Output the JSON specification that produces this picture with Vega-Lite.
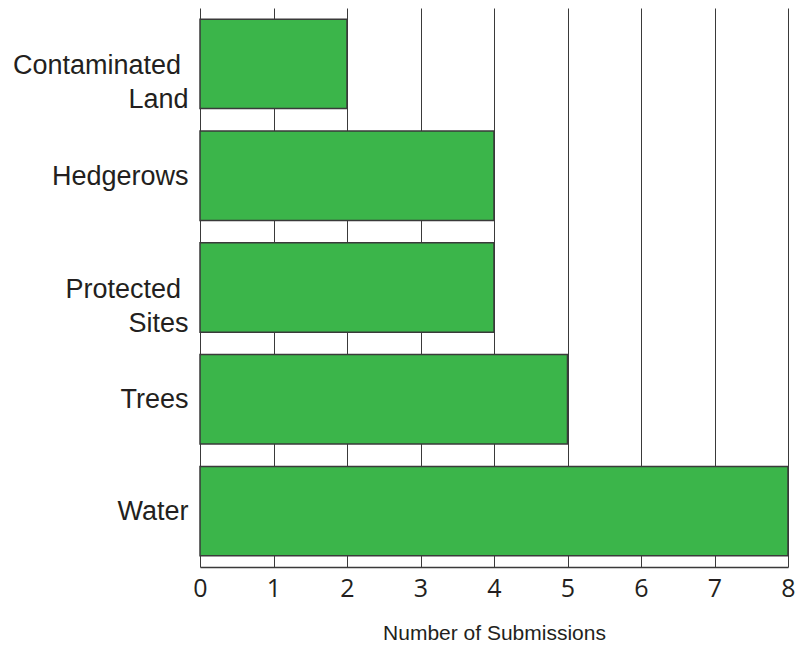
{
  "$schema": "https://vega.github.io/schema/vega-lite/v6.json",
  "width": 588,
  "height": 559,
  "autosize": {"type": "none"},
  "padding": {"left": 200, "top": 8, "right": 15, "bottom": 79},
  "background": "white",
  "config": {"view": {"stroke": null}},
  "data": {
    "values": [
      {"topic": "Contaminated\u00a0\u200b|Land", "submissions": 2},
      {"topic": "Hedgerows", "submissions": 4},
      {"topic": "Protected\u00a0\u200b|Sites", "submissions": 4},
      {"topic": "Trees", "submissions": 5},
      {"topic": "Water", "submissions": 8}
    ]
  },
  "mark": {"type": "bar", "fill": "#3bb54a", "stroke": "#3a3a3a", "strokeWidth": 1.5},
  "encoding": {
    "y": {
      "field": "topic",
      "type": "nominal",
      "sort": null,
      "scale": {"paddingInner": 0.2, "paddingOuter": 0.1},
      "axis": {
        "title": null,
        "domain": false,
        "ticks": false,
        "labelExpr": "split(datum.label, '|')",
        "labelFont": "Liberation Sans",
        "labelFontSize": 27,
        "labelColor": "#231f20",
        "labelLineHeight": 34,
        "labelPadding": 12,
        "labelLimit": 0,
        "labelBaseline": "middle",
        "labelOffset": {"condition": {"test": "indexof(datum.value, '|') >= 0", "value": 2}, "value": 1}
      }
    },
    "x": {
      "field": "submissions",
      "type": "quantitative",
      "scale": {"domain": [0, 8], "nice": false},
      "axis": {
        "title": "Number of Submissions",
        "titleFont": "Liberation Sans",
        "titleFontSize": 21,
        "titleFontWeight": "normal",
        "titleColor": "#231f20",
        "titlePadding": 21,
        "values": [0, 1, 2, 3, 4, 5, 6, 7, 8],
        "format": "d",
        "labelFont": "Open Sans",
        "labelFontSize": 25,
        "labelColor": "#231f20",
        "labelPadding": 9,
        "labelFlush": false,
        "ticks": false,
        "domain": true,
        "domainColor": "#3a3a3a",
        "domainWidth": 1.5,
        "grid": true,
        "gridColor": "#3a3a3a",
        "gridWidth": 1,
        "gridOpacity": 1
      }
    }
  }
}
